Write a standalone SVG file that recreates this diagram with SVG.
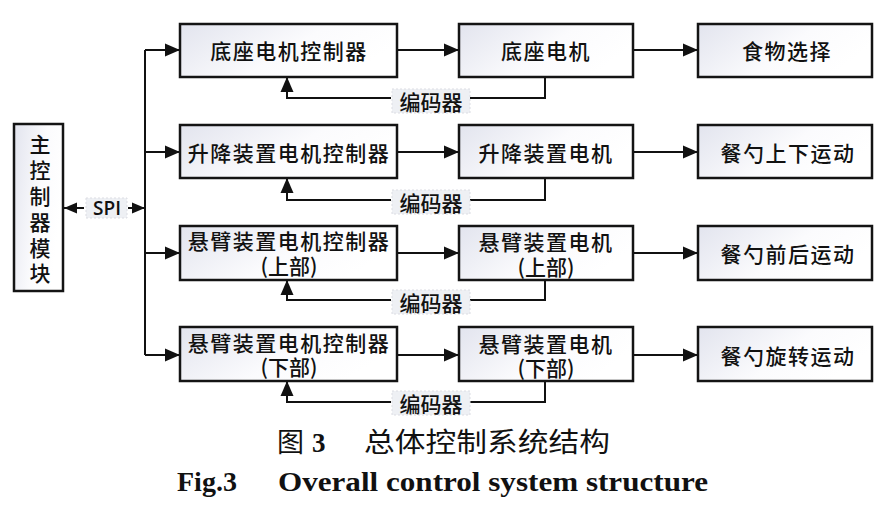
<svg xmlns="http://www.w3.org/2000/svg" width="888" height="505" viewBox="0 0 888 505">
<defs>
<linearGradient id="g" x1="0" y1="0" x2="1" y2="0.4">
<stop offset="0" stop-color="#e2e4ee"/>
<stop offset="0.6" stop-color="#fbfbfd"/>
<stop offset="1" stop-color="#ffffff"/>
</linearGradient>
<marker id="ah" markerUnits="userSpaceOnUse" markerWidth="16" markerHeight="14" refX="15" refY="7" orient="auto">
<path d="M0,0.5 L15,7 L0,13.5 Z" fill="#111"/>
</marker>
<marker id="as" markerUnits="userSpaceOnUse" markerWidth="14" markerHeight="12" refX="13" refY="6" orient="auto-start-reverse">
<path d="M0,0.5 L13,6 L0,11.5 Z" fill="#111"/>
</marker>
</defs>
<style>
.box{fill:url(#g);stroke:#141414;stroke-width:2.5}
.t{font-family:"Noto Sans CJK SC","Noto Sans",sans-serif;font-weight:500;font-size:21px;fill:#111;text-anchor:middle;dominant-baseline:central}
.ln{fill:none;stroke:#111;stroke-width:2}
.lbl{fill:#eef0f4;stroke:#dcdde3;stroke-width:1;stroke-dasharray:2,2}
.cap{font-family:"Noto Sans CJK SC",sans-serif;font-size:27px;fill:#111}
.en{font-family:"Liberation Serif",serif;font-weight:bold;font-size:28px;fill:#111}
</style>
<rect width="888" height="505" fill="#fff"/>

<g id="connectors">
<path class="ln" d="M145,50 V355"/>
<path class="ln" d="M145,50 H180" marker-end="url(#ah)"/>
<path class="ln" d="M145,152 H180" marker-end="url(#ah)"/>
<path class="ln" d="M145,253 H180" marker-end="url(#ah)"/>
<path class="ln" d="M145,355 H180" marker-end="url(#ah)"/>
<path class="ln" d="M397,50 H459" marker-end="url(#ah)"/>
<path class="ln" d="M397,152 H459" marker-end="url(#ah)"/>
<path class="ln" d="M397,253 H459" marker-end="url(#ah)"/>
<path class="ln" d="M397,355 H459" marker-end="url(#ah)"/>
<path class="ln" d="M633,50 H698" marker-end="url(#ah)"/>
<path class="ln" d="M633,152 H698" marker-end="url(#ah)"/>
<path class="ln" d="M633,253 H698" marker-end="url(#ah)"/>
<path class="ln" d="M633,355 H698" marker-end="url(#ah)"/>
<path class="ln" d="M545,77 V98 H470"/>
<path class="ln" d="M391,98 H287 V77" marker-end="url(#ah)"/>
<path class="ln" d="M545,178 V200 H470"/>
<path class="ln" d="M391,200 H287 V178" marker-end="url(#ah)"/>
<path class="ln" d="M545,280 V300 H470"/>
<path class="ln" d="M391,300 H287 V280" marker-end="url(#ah)"/>
<path class="ln" d="M545,381 V402 H470"/>
<path class="ln" d="M391,402 H287 V381" marker-end="url(#ah)"/>
<path class="ln" d="M64,208 H84" marker-start="url(#as)"/>
<path class="ln" d="M128,208 H145" marker-end="url(#as)"/>
</g>

<g id="spi">
<rect class="lbl" x="86" y="198" width="41" height="20"/>
<text class="t" x="107" y="208" style="font-family:'Open Sans','DejaVu Sans',sans-serif;font-size:19px;font-weight:600">SPI</text>
</g>

<g id="main">
<rect class="box" x="14" y="124" width="49" height="167"/>
<text class="t" x="40" y="143">主</text>
<text class="t" x="40" y="169">控</text>
<text class="t" x="40" y="195">制</text>
<text class="t" x="40" y="221">器</text>
<text class="t" x="40" y="247">模</text>
<text class="t" x="40" y="272">块</text>
</g>

<g id="ctrl1"><rect class="box" x="180" y="24" width="217" height="53"/><text class="t" x="289" y="50" letter-spacing="1.5">底座电机控制器</text></g>
<g id="ctrl2"><rect class="box" x="180" y="125" width="217" height="53"/><text class="t" x="289" y="152" letter-spacing="1.5">升降装置电机控制器</text></g>
<g id="ctrl3"><rect class="box" x="180" y="226" width="217" height="54"/><text class="t" x="289" y="240" letter-spacing="1.5">悬臂装置电机控制器</text><text class="t" x="289" y="265">(上部)</text></g>
<g id="ctrl4"><rect class="box" x="180" y="327" width="217" height="54"/><text class="t" x="289" y="342" letter-spacing="1.5">悬臂装置电机控制器</text><text class="t" x="289" y="366">(下部)</text></g>

<g id="motor1"><rect class="box" x="459" y="24" width="174" height="53"/><text class="t" x="546" y="50" letter-spacing="1.5">底座电机</text></g>
<g id="motor2"><rect class="box" x="459" y="125" width="174" height="53"/><text class="t" x="546" y="152" letter-spacing="1.5">升降装置电机</text></g>
<g id="motor3"><rect class="box" x="459" y="226" width="174" height="54"/><text class="t" x="546" y="241" letter-spacing="1.5">悬臂装置电机</text><text class="t" x="546" y="266">(上部)</text></g>
<g id="motor4"><rect class="box" x="459" y="327" width="174" height="54"/><text class="t" x="546" y="343" letter-spacing="1.5">悬臂装置电机</text><text class="t" x="546" y="367">(下部)</text></g>

<g id="out1"><rect class="box" x="698" y="24" width="174" height="53"/><text class="t" x="787" y="50" letter-spacing="1.5">食物选择</text></g>
<g id="out2"><rect class="box" x="698" y="125" width="174" height="53"/><text class="t" x="788" y="152" letter-spacing="1.5">餐勺上下运动</text></g>
<g id="out3"><rect class="box" x="698" y="226" width="174" height="54"/><text class="t" x="788" y="253" letter-spacing="1.5">餐勺前后运动</text></g>
<g id="out4"><rect class="box" x="698" y="327" width="174" height="54"/><text class="t" x="788" y="355" letter-spacing="1.5">餐勺旋转运动</text></g>

<g id="enc1"><rect class="lbl" x="392" y="89" width="78" height="24"/><text class="t" x="431" y="101">编码器</text></g>
<g id="enc2"><rect class="lbl" x="392" y="190" width="78" height="24"/><text class="t" x="431" y="202">编码器</text></g>
<g id="enc3"><rect class="lbl" x="392" y="290" width="78" height="24"/><text class="t" x="431" y="302">编码器</text></g>
<g id="enc4"><rect class="lbl" x="392" y="391" width="78" height="24"/><text class="t" x="431" y="403">编码器</text></g>

<g id="caption">
<text class="cap" x="277" y="452">图</text>
<text class="en" x="312" y="452" style="font-size:27px">3</text>
<text class="cap" x="364" y="452" textLength="246" lengthAdjust="spacingAndGlyphs">总体控制系统结构</text>
<text class="en" x="177" y="491">Fig.3</text>
<text class="en" x="278" y="491" textLength="430" lengthAdjust="spacingAndGlyphs">Overall control system structure</text>
</g>
</svg>
